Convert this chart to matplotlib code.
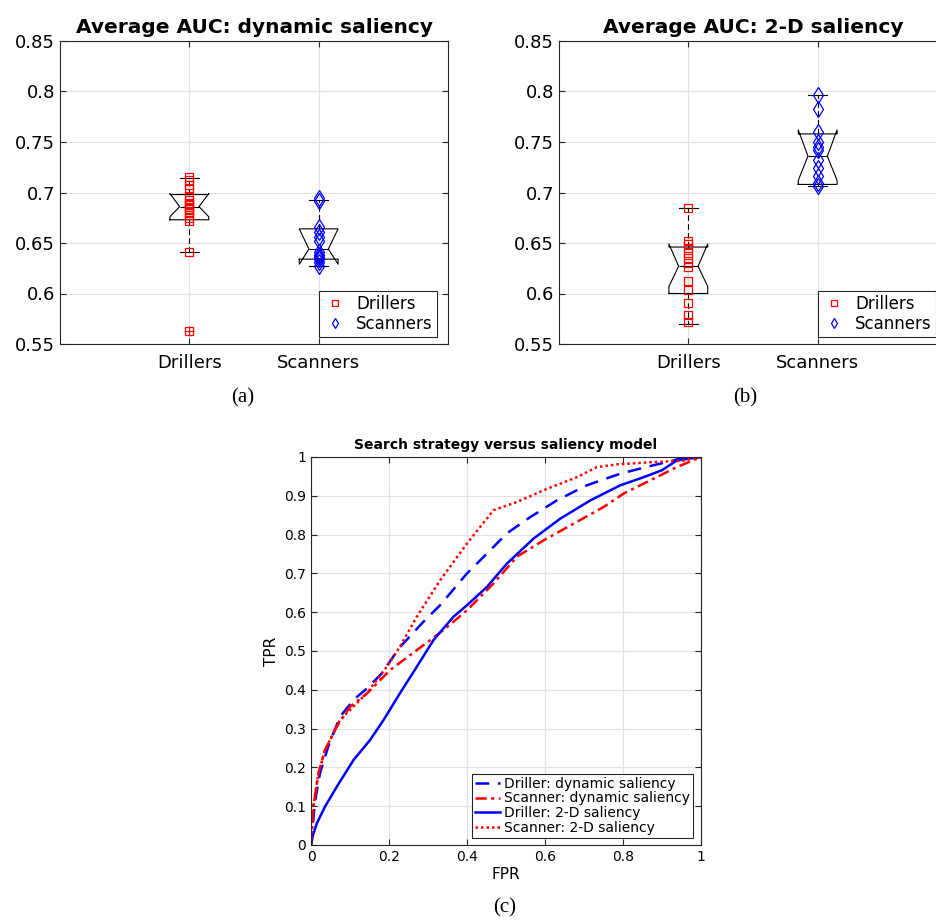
import matplotlib
matplotlib.use('Agg')
import matplotlib.pyplot as plt

plt.rcParams['font.family'] = 'DejaVu Sans'

# ---- panel (a): average AUC, dynamic saliency ----
dyn_drillers = [0.715, 0.712, 0.707, 0.703, 0.697, 0.693, 0.690, 0.688,
                0.686, 0.684, 0.681, 0.678, 0.675, 0.672, 0.641, 0.563]
dyn_scanners = [0.695, 0.692, 0.666, 0.661, 0.656, 0.652, 0.641, 0.638,
                0.636, 0.634, 0.631, 0.627]
dyn_med = [0.686, 0.644]
dyn_q1 = [0.673, 0.634]
dyn_q3 = [0.698, 0.664]
dyn_whislo = [0.641, 0.627]
dyn_whishi = [0.714, 0.693]
dyn_cilo = [0.676, 0.629]
dyn_cihi = [0.699, 0.664]
dyn_fliers = [[0.563], []]

# ---- panel (b): average AUC, 2-D saliency ----
flat_drillers = [0.685, 0.652, 0.649, 0.645, 0.640, 0.635, 0.630, 0.626,
                 0.612, 0.603, 0.591, 0.579, 0.572]
flat_scanners = [0.797, 0.783, 0.760, 0.750, 0.745, 0.742, 0.732, 0.724,
                 0.716, 0.709, 0.706]
flat_med = [0.627, 0.736]
flat_q1 = [0.600, 0.708]
flat_q3 = [0.646, 0.758]
flat_whislo = [0.570, 0.706]
flat_whishi = [0.685, 0.797]
flat_cilo = [0.607, 0.712]
flat_cihi = [0.649, 0.762]
flat_fliers = [[], []]

groups = ['Drillers', 'Scanners']
auc_ticks = [0.55, 0.6, 0.65, 0.7, 0.75, 0.8, 0.85]
auc_labels = ['0.55', '0.6', '0.65', '0.7', '0.75', '0.8', '0.85']

# ---- panel (c): ROC curves ----
fpr_drl_dyn = [0, 0.010, 0.023, 0.044, 0.074, 0.110, 0.143, 0.181, 0.228, 0.288,
               0.331, 0.400, 0.451, 0.502, 0.562, 0.630, 0.707, 0.793, 0.879,
               0.930, 0.956, 1.0]
tpr_drl_dyn = [0, 0.110, 0.185, 0.253, 0.330, 0.375, 0.403, 0.442, 0.510, 0.575,
               0.618, 0.700, 0.751, 0.803, 0.845, 0.888, 0.927, 0.957, 0.979,
               0.991, 1.0, 1.0]
fpr_scn_dyn = [0, 0.006, 0.019, 0.036, 0.066, 0.100, 0.143, 0.203, 0.271, 0.340,
               0.400, 0.468, 0.528, 0.596, 0.673, 0.750, 0.802, 0.870, 0.938, 1.0]
tpr_scn_dyn = [0, 0.099, 0.185, 0.245, 0.305, 0.356, 0.390, 0.451, 0.502, 0.554,
               0.605, 0.674, 0.743, 0.785, 0.828, 0.871, 0.906, 0.940, 0.974, 1.0]
fpr_drl_2d = [0, 0.005, 0.015, 0.036, 0.066, 0.109, 0.151, 0.186, 0.228, 0.271,
              0.314, 0.365, 0.400, 0.451, 0.502, 0.571, 0.639, 0.716, 0.793,
              0.853, 0.900, 0.938, 1.0]
tpr_drl_2d = [0, 0.025, 0.056, 0.099, 0.150, 0.219, 0.270, 0.322, 0.391, 0.459,
              0.528, 0.588, 0.618, 0.665, 0.725, 0.790, 0.841, 0.888, 0.927,
              0.948, 0.966, 0.991, 1.0]
fpr_scn_2d = [0, 0.006, 0.019, 0.036, 0.074, 0.143, 0.194, 0.228, 0.271, 0.331,
              0.400, 0.468, 0.528, 0.605, 0.682, 0.733, 0.784, 0.879, 0.950, 1.0]
tpr_scn_2d = [0, 0.099, 0.185, 0.245, 0.322, 0.391, 0.459, 0.511, 0.588, 0.682,
              0.777, 0.863, 0.884, 0.918, 0.948, 0.974, 0.981, 0.987, 0.990, 1.0]

grid_col = '#e2e2e2'
axis_col = '#262626'


def style_axes(ax):
    ax.grid(True, color=grid_col, linewidth=0.9)
    ax.set_axisbelow(True)
    ax.tick_params(direction='in', top=True, right=True, color=axis_col,
                   length=4, width=0.8)
    for sp in ax.spines.values():
        sp.set_color(axis_col)
        sp.set_linewidth(0.8)


def auc_panel(ax, title, drl, scn, med, q1, q3, wlo, whi, clo, chi, fl):
    stats = []
    for i in range(2):
        stats.append(dict(med=med[i], q1=q1[i], q3=q3[i], whislo=wlo[i],
                          whishi=whi[i], cilo=clo[i], cihi=chi[i],
                          fliers=fl[i]))
    ax.bxp(stats, positions=[1, 2], widths=0.3, shownotches=True,
           boxprops=dict(color='k', linewidth=0.8),
           whiskerprops=dict(color='k', linestyle=(0, (5, 3)), linewidth=0.8),
           capprops=dict(color='k', linewidth=0.8),
           medianprops=dict(color='k', linewidth=0.8),
           flierprops=dict(marker='+', markeredgecolor='r', markersize=7,
                           markeredgewidth=0.8))
    ax.plot([1] * len(drl), drl, 's', mfc='none', mec='r', ms=6, mew=0.9,
            label='Drillers', zorder=3)
    ax.plot([2] * len(scn), scn, 'd', mfc='none', mec='b', ms=8.5, mew=0.9,
            label='Scanners', zorder=3)
    ax.set_xlim(0, 3)
    ax.set_ylim(0.55, 0.85)
    ax.set_xticks([1, 2])
    ax.set_xticklabels(groups, fontsize=13)
    ax.set_yticks(auc_ticks)
    ax.set_yticklabels(auc_labels, fontsize=13)
    ax.tick_params(axis='x', pad=7)
    style_axes(ax)
    ax.set_title(title, fontsize=14.5, fontweight='bold', pad=6)
    leg = ax.legend(loc='lower right', bbox_to_anchor=(0.972, 0.023),
                    borderaxespad=0, fancybox=False, edgecolor=axis_col,
                    framealpha=1, fontsize=12, markerscale=0.65,
                    handletextpad=0.6, borderpad=0.25, labelspacing=0.1,
                    handlelength=1.4)
    leg.get_frame().set_linewidth(0.8)


fig = plt.figure(figsize=(9.36, 9.23), dpi=100)

ax_a = fig.add_axes([60 / 936, 1 - 344 / 923, 388 / 936, 303 / 923])
auc_panel(ax_a, 'Average AUC: dynamic saliency', dyn_drillers, dyn_scanners,
          dyn_med, dyn_q1, dyn_q3, dyn_whislo, dyn_whishi, dyn_cilo, dyn_cihi,
          dyn_fliers)

ax_b = fig.add_axes([559 / 936, 1 - 344 / 923, 388 / 936, 303 / 923])
auc_panel(ax_b, 'Average AUC: 2-D saliency', flat_drillers, flat_scanners,
          flat_med, flat_q1, flat_q3, flat_whislo, flat_whishi, flat_cilo,
          flat_cihi, flat_fliers)

ax_c = fig.add_axes([311 / 936, 1 - 845 / 923, 390 / 936, 388 / 923])
ax_c.plot(fpr_drl_dyn, tpr_drl_dyn, color='b', lw=1.8, linestyle=(0, (5.5, 3.5)),
          label='Driller: dynamic saliency')
ax_c.plot(fpr_scn_dyn, tpr_scn_dyn, color='r', lw=1.8,
          linestyle=(0, (4.5, 1.8, 1.2, 1.8)), label='Scanner: dynamic saliency')
ax_c.plot(fpr_drl_2d, tpr_drl_2d, color='b', lw=1.8, linestyle='-',
          label='Driller: 2-D saliency')
ax_c.plot(fpr_scn_2d, tpr_scn_2d, color='r', lw=1.8, linestyle=(0, (1, 1.2)),
          label='Scanner: 2-D saliency')
ax_c.set_xlim(0, 1)
ax_c.set_ylim(0, 1)
ax_c.set_xticks([0, 0.2, 0.4, 0.6, 0.8, 1])
ax_c.set_xticklabels(['0', '0.2', '0.4', '0.6', '0.8', '1'], fontsize=10)
ax_c.set_yticks([0, 0.1, 0.2, 0.3, 0.4, 0.5, 0.6, 0.7, 0.8, 0.9, 1])
ax_c.set_yticklabels(['0', '0.1', '0.2', '0.3', '0.4', '0.5', '0.6', '0.7',
                      '0.8', '0.9', '1'], fontsize=10)
style_axes(ax_c)
ax_c.set_xlabel('FPR', fontsize=11, labelpad=2)
ax_c.set_ylabel('TPR', fontsize=11, labelpad=4)
ax_c.set_title('Search strategy versus saliency model', fontsize=10,
               fontweight='bold', pad=6)
leg = ax_c.legend(loc='lower right', bbox_to_anchor=(0.979, 0.019),
                  borderaxespad=0, fancybox=False, edgecolor=axis_col,
                  framealpha=1, fontsize=10, handlelength=1.8,
                  handletextpad=0.3, borderpad=0.2, labelspacing=0.05)
leg.get_frame().set_linewidth(0.8)

fig.text(243 / 936, 1 - 398 / 923, '(a)', family='Liberation Serif',
         fontsize=15, ha='center', va='center')
fig.text(745 / 936, 1 - 398 / 923, '(b)', family='Liberation Serif',
         fontsize=15, ha='center', va='center')
fig.text(505 / 936, 1 - 908 / 923, '(c)', family='Liberation Serif',
         fontsize=15, ha='center', va='center')

fig.savefig('out.png', dpi=100)
